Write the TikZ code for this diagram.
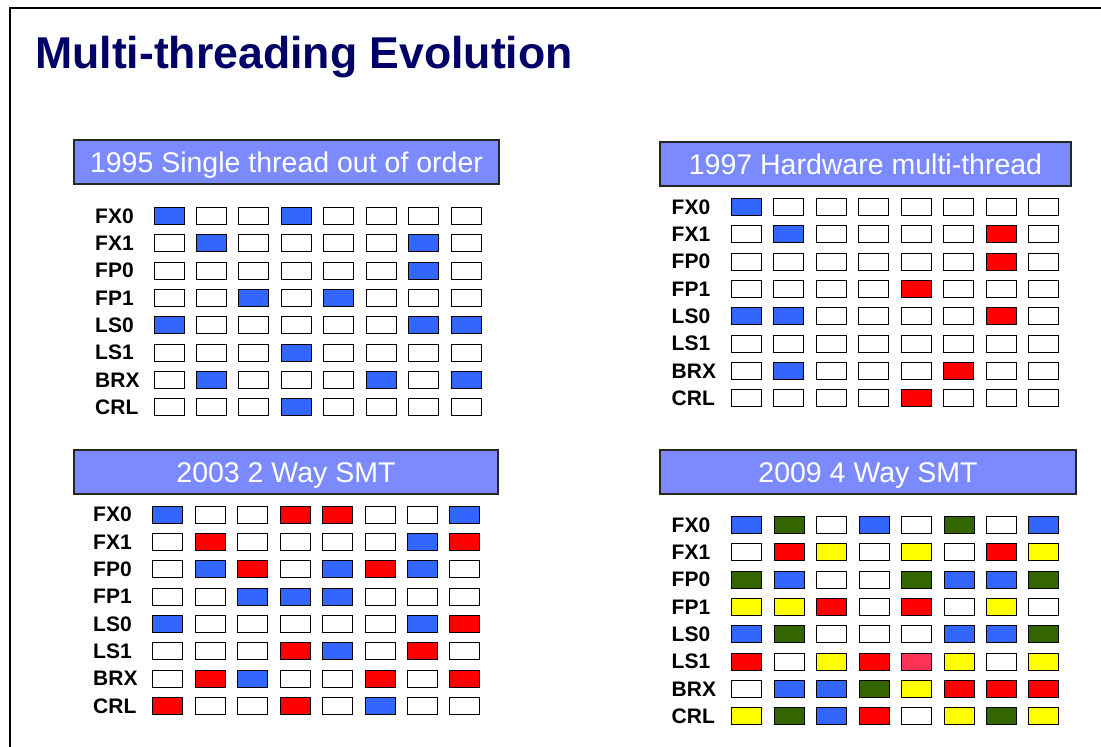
\documentclass[tikz,border=0pt]{standalone}
\usepackage{fontspec}
\setmainfont{Liberation Sans}
\definecolor{cB}{HTML}{3366FF}
\definecolor{cR}{HTML}{FF0000}
\definecolor{cG}{HTML}{336600}
\definecolor{cY}{HTML}{FFFF00}
\definecolor{cP}{HTML}{FF3355}
\definecolor{hdr}{HTML}{7B8BFF}
\definecolor{navy}{HTML}{000066}
\newcommand\mtpanel[5]{%
  \foreach \lab/\cols [count=\r from 0] in {#5} {
    \node[lbl] (#1-l\r) at (#2, #4+\r*27.3) {\lab};
    \foreach \c [count=\i from 0] in \cols {
      \node[cell, fill=\c] (#1-\r-\i) at (#3+\i*42.45, #4+\r*27.3) {};
    }
  }}
\begin{document}
\begin{tikzpicture}[x=1pt,y=-1pt,
  cell/.style={draw=black, line width=0.9pt, rectangle, minimum width=30pt, minimum height=17pt, inner sep=0pt},
  lbl/.style={anchor=west, inner sep=0pt, font=\fontsize{21}{24}\selectfont\bfseries},
  hdrbox/.style={draw=black!85, line width=1.2pt, fill=hdr, rectangle, inner sep=0pt},
  hdrtxt/.style={anchor=base, inner sep=0pt, text=white, font=\fontsize{28.5}{32}\selectfont}]
\useasboundingbox (0,0) rectangle (1101,747);
\fill[white] (0,0) rectangle (1101,747);
\draw[line width=1.2pt] (10,747) -- (10,8) -- (1101,8);
\node[anchor=base west, inner sep=0pt, text=navy, font=\fontsize{44.6}{50}\selectfont\bfseries] (title) at (35,68) {Multi-threading Evolution};
% headers
\node[hdrbox, minimum width=425pt, minimum height=44pt] (h1) at (286.5,162) {};
\node[hdrtxt] (h1t) at (h1.center) [yshift=-10.5pt] {1995 Single thread out of order};
\node[hdrbox, minimum width=411pt, minimum height=44pt] (h2) at (865.5,164) {};
\node[hdrtxt] (h2t) at (h2.center) [yshift=-10.5pt] {1997 Hardware multi-thread};
\node[hdrbox, minimum width=424pt, minimum height=44pt] (h3) at (286,472) {};
\node[hdrtxt] (h3t) at (h3.center) [yshift=-10.5pt] {2003 2 Way SMT};
\node[hdrbox, minimum width=416pt, minimum height=44pt] (h4) at (868,472) {};
\node[hdrtxt] (h4t) at (h4.center) [yshift=-10.5pt] {2009 4 Way SMT};
% panel 1
\mtpanel{p1}{95}{169}{216}{%
 FX0/{cB,white,white,cB,white,white,white,white},
 FX1/{white,cB,white,white,white,white,cB,white},
 FP0/{white,white,white,white,white,white,cB,white},
 FP1/{white,white,cB,white,cB,white,white,white},
 LS0/{cB,white,white,white,white,white,cB,cB},
 LS1/{white,white,white,cB,white,white,white,white},
 BRX/{white,cB,white,white,white,cB,white,cB},
 CRL/{white,white,white,cB,white,white,white,white}}
% panel 2
\mtpanel{p2}{671.5}{746.3}{207}{%
 FX0/{cB,white,white,white,white,white,white,white},
 FX1/{white,cB,white,white,white,white,cR,white},
 FP0/{white,white,white,white,white,white,cR,white},
 FP1/{white,white,white,white,cR,white,white,white},
 LS0/{cB,cB,white,white,white,white,cR,white},
 LS1/{white,white,white,white,white,white,white,white},
 BRX/{white,cB,white,white,white,cR,white,white},
 CRL/{white,white,white,white,cR,white,white,white}}
% panel 3
\mtpanel{p3}{93}{167.7}{514.7}{%
 FX0/{cB,white,white,cR,cR,white,white,cB},
 FX1/{white,cR,white,white,white,white,cB,cR},
 FP0/{white,cB,cR,white,cB,cR,cB,white},
 FP1/{white,white,cB,cB,cB,white,white,white},
 LS0/{cB,white,white,white,white,white,cB,cR},
 LS1/{white,white,white,cR,cB,white,cR,white},
 BRX/{white,cR,cB,white,white,cR,white,cR},
 CRL/{cR,white,white,cR,white,cB,white,white}}
% panel 4
\mtpanel{p4}{671.5}{746.7}{525}{%
 FX0/{cB,cG,white,cB,white,cG,white,cB},
 FX1/{white,cR,cY,white,cY,white,cR,cY},
 FP0/{cG,cB,white,white,cG,cB,cB,cG},
 FP1/{cY,cY,cR,white,cR,white,cY,white},
 LS0/{cB,cG,white,white,white,cB,cB,cG},
 LS1/{cR,white,cY,cR,cP,cY,white,cY},
 BRX/{white,cB,cB,cG,cY,cR,cR,cR},
 CRL/{cY,cG,cB,cR,white,cY,cG,cY}}
\end{tikzpicture}
\end{document}
